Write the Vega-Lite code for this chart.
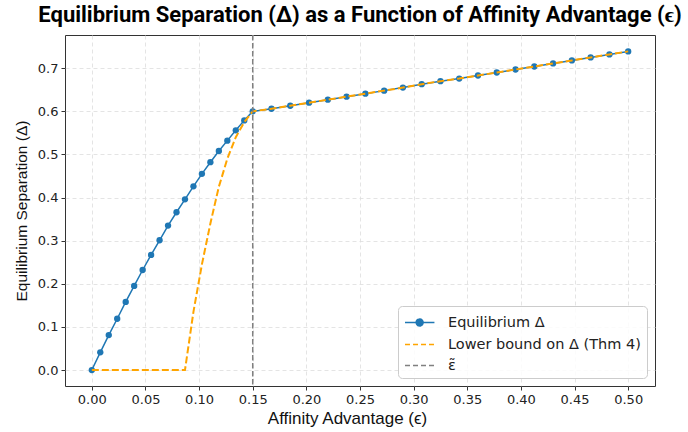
{
  "$schema": "https://vega.github.io/schema/vega-lite/v6.json",
  "width": 590,
  "height": 351,
  "autosize": {"type": "none"},
  "padding": {"left": 65, "top": 35, "right": 33, "bottom": 46},
  "background": "white",
  "title": {
    "text": "Equilibrium Separation (Δ) as a Function of Affinity Advantage (ϵ)",
    "font": "Roboto",
    "fontWeight": "bold",
    "fontSize": 22,
    "color": "#000000",
    "anchor": "middle",
    "offset": 7
  },
  "config": {
    "view": {"stroke": "#333333", "strokeWidth": 1},
    "axis": {
      "labelFont": "DejaVu Sans",
      "labelFontSize": 13,
      "labelColor": "#222222",
      "titleFont": "Liberation Sans",
      "titleFontSize": 15.5,
      "titleFontWeight": "normal",
      "titleColor": "#111111",
      "tickColor": "#333333",
      "tickSize": 4,
      "labelPadding": 3,
      "domain": false,
      "gridColor": "#dddddd",
      "gridDash": [4, 3],
      "gridWidth": 0.8
    },
    "legend": {"labelFont": "DejaVu Sans"}
  },
  "data": {
    "values": [
      {"series": "Equilibrium Δ", "x": 0, "y": 0},
      {"series": "Equilibrium Δ", "x": 0.00789, "y": 0.041},
      {"series": "Equilibrium Δ", "x": 0.01579, "y": 0.081},
      {"series": "Equilibrium Δ", "x": 0.02368, "y": 0.119},
      {"series": "Equilibrium Δ", "x": 0.03158, "y": 0.158},
      {"series": "Equilibrium Δ", "x": 0.03947, "y": 0.195},
      {"series": "Equilibrium Δ", "x": 0.04737, "y": 0.232},
      {"series": "Equilibrium Δ", "x": 0.05526, "y": 0.267},
      {"series": "Equilibrium Δ", "x": 0.06316, "y": 0.301},
      {"series": "Equilibrium Δ", "x": 0.07105, "y": 0.335},
      {"series": "Equilibrium Δ", "x": 0.07895, "y": 0.366},
      {"series": "Equilibrium Δ", "x": 0.08684, "y": 0.396},
      {"series": "Equilibrium Δ", "x": 0.09474, "y": 0.426},
      {"series": "Equilibrium Δ", "x": 0.10263, "y": 0.455},
      {"series": "Equilibrium Δ", "x": 0.11053, "y": 0.482},
      {"series": "Equilibrium Δ", "x": 0.11842, "y": 0.508},
      {"series": "Equilibrium Δ", "x": 0.12632, "y": 0.532},
      {"series": "Equilibrium Δ", "x": 0.13421, "y": 0.556},
      {"series": "Equilibrium Δ", "x": 0.14211, "y": 0.579},
      {"series": "Equilibrium Δ", "x": 0.15, "y": 0.6},
      {"series": "Equilibrium Δ", "x": 0.1675, "y": 0.606},
      {"series": "Equilibrium Δ", "x": 0.185, "y": 0.613},
      {"series": "Equilibrium Δ", "x": 0.2025, "y": 0.62},
      {"series": "Equilibrium Δ", "x": 0.22, "y": 0.627},
      {"series": "Equilibrium Δ", "x": 0.2375, "y": 0.634},
      {"series": "Equilibrium Δ", "x": 0.255, "y": 0.641},
      {"series": "Equilibrium Δ", "x": 0.2725, "y": 0.648},
      {"series": "Equilibrium Δ", "x": 0.29, "y": 0.655},
      {"series": "Equilibrium Δ", "x": 0.3075, "y": 0.663},
      {"series": "Equilibrium Δ", "x": 0.325, "y": 0.67},
      {"series": "Equilibrium Δ", "x": 0.3425, "y": 0.676},
      {"series": "Equilibrium Δ", "x": 0.36, "y": 0.683},
      {"series": "Equilibrium Δ", "x": 0.3775, "y": 0.69},
      {"series": "Equilibrium Δ", "x": 0.395, "y": 0.697},
      {"series": "Equilibrium Δ", "x": 0.4125, "y": 0.704},
      {"series": "Equilibrium Δ", "x": 0.43, "y": 0.711},
      {"series": "Equilibrium Δ", "x": 0.4475, "y": 0.718},
      {"series": "Equilibrium Δ", "x": 0.465, "y": 0.725},
      {"series": "Equilibrium Δ", "x": 0.4825, "y": 0.732},
      {"series": "Equilibrium Δ", "x": 0.5, "y": 0.739},
      {"series": "Lower bound on Δ (Thm 4)", "x": 0, "y": 0},
      {"series": "Lower bound on Δ (Thm 4)", "x": 0.00789, "y": 0},
      {"series": "Lower bound on Δ (Thm 4)", "x": 0.01579, "y": 0},
      {"series": "Lower bound on Δ (Thm 4)", "x": 0.02368, "y": 0},
      {"series": "Lower bound on Δ (Thm 4)", "x": 0.03158, "y": 0},
      {"series": "Lower bound on Δ (Thm 4)", "x": 0.03947, "y": 0},
      {"series": "Lower bound on Δ (Thm 4)", "x": 0.04737, "y": 0},
      {"series": "Lower bound on Δ (Thm 4)", "x": 0.05526, "y": 0},
      {"series": "Lower bound on Δ (Thm 4)", "x": 0.06316, "y": 0},
      {"series": "Lower bound on Δ (Thm 4)", "x": 0.07105, "y": 0},
      {"series": "Lower bound on Δ (Thm 4)", "x": 0.07895, "y": 0},
      {"series": "Lower bound on Δ (Thm 4)", "x": 0.08684, "y": 0},
      {"series": "Lower bound on Δ (Thm 4)", "x": 0.09474, "y": 0.135},
      {"series": "Lower bound on Δ (Thm 4)", "x": 0.10263, "y": 0.245},
      {"series": "Lower bound on Δ (Thm 4)", "x": 0.11053, "y": 0.34},
      {"series": "Lower bound on Δ (Thm 4)", "x": 0.11842, "y": 0.425},
      {"series": "Lower bound on Δ (Thm 4)", "x": 0.12632, "y": 0.49},
      {"series": "Lower bound on Δ (Thm 4)", "x": 0.13421, "y": 0.54},
      {"series": "Lower bound on Δ (Thm 4)", "x": 0.14211, "y": 0.575},
      {"series": "Lower bound on Δ (Thm 4)", "x": 0.15, "y": 0.6},
      {"series": "Lower bound on Δ (Thm 4)", "x": 0.1675, "y": 0.606},
      {"series": "Lower bound on Δ (Thm 4)", "x": 0.185, "y": 0.613},
      {"series": "Lower bound on Δ (Thm 4)", "x": 0.2025, "y": 0.62},
      {"series": "Lower bound on Δ (Thm 4)", "x": 0.22, "y": 0.627},
      {"series": "Lower bound on Δ (Thm 4)", "x": 0.2375, "y": 0.634},
      {"series": "Lower bound on Δ (Thm 4)", "x": 0.255, "y": 0.641},
      {"series": "Lower bound on Δ (Thm 4)", "x": 0.2725, "y": 0.648},
      {"series": "Lower bound on Δ (Thm 4)", "x": 0.29, "y": 0.655},
      {"series": "Lower bound on Δ (Thm 4)", "x": 0.3075, "y": 0.663},
      {"series": "Lower bound on Δ (Thm 4)", "x": 0.325, "y": 0.67},
      {"series": "Lower bound on Δ (Thm 4)", "x": 0.3425, "y": 0.676},
      {"series": "Lower bound on Δ (Thm 4)", "x": 0.36, "y": 0.683},
      {"series": "Lower bound on Δ (Thm 4)", "x": 0.3775, "y": 0.69},
      {"series": "Lower bound on Δ (Thm 4)", "x": 0.395, "y": 0.697},
      {"series": "Lower bound on Δ (Thm 4)", "x": 0.4125, "y": 0.704},
      {"series": "Lower bound on Δ (Thm 4)", "x": 0.43, "y": 0.711},
      {"series": "Lower bound on Δ (Thm 4)", "x": 0.4475, "y": 0.718},
      {"series": "Lower bound on Δ (Thm 4)", "x": 0.465, "y": 0.725},
      {"series": "Lower bound on Δ (Thm 4)", "x": 0.4825, "y": 0.732},
      {"series": "Lower bound on Δ (Thm 4)", "x": 0.5, "y": 0.739},
      {"series": "ε̃", "x": 0.15}
    ]
  },
  "encoding": {
    "x": {
      "field": "x",
      "type": "quantitative",
      "title": "Affinity Advantage (ϵ)",
      "scale": {"domain": [-0.025, 0.525], "nice": false, "zero": false},
      "axis": {"values": [0, 0.05, 0.1, 0.15, 0.2, 0.25, 0.3, 0.35, 0.4, 0.45, 0.5], "format": ".2f", "titlePadding": 4, "titleFontSize": 17, "titleX": 282}
    },
    "color": {
      "field": "series",
      "type": "nominal",
      "scale": {
        "domain": ["Equilibrium Δ", "Lower bound on Δ (Thm 4)", "ε̃"],
        "range": ["#1f77b4", "#ffa500", "#808080"]
      },
      "legend": {
        "title": null,
        "orient": "bottom-right",
        "offset": 8,
        "labelFont": "DejaVu Sans",
        "labelFontSize": 14.5,
        "labelColor": "#222222",
        "labelLimit": 400,
        "labelOffset": 23,
        "fillColor": "rgba(255,255,255,0.85)",
        "strokeColor": "#cccccc",
        "cornerRadius": 4,
        "padding": 6,
        "rowPadding": 4,
        "symbolSize": 361,
        "symbolStrokeWidth": 1.6,
        "encode": {
          "symbols": {
            "update": {
              "shape": {"signal": "datum.value === 'Equilibrium Δ' ? 'M -1 0 L 2.1 0 M 0.9 0 A 0.36 0.36 0 1 1 0.18 0 A 0.36 0.36 0 1 1 0.9 0 Z' : 'M -1 0 L 2.1 0'"},
              "fill": {"signal": "datum.value === 'Equilibrium Δ' ? '#1f77b4' : 'transparent'"},
              "stroke": {"signal": "datum.value === 'Equilibrium Δ' ? '#1f77b4' : (datum.value === 'ε̃' ? '#808080' : '#ffa500')"},
              "strokeDash": {"signal": "datum.value === 'Equilibrium Δ' ? [1, 0] : [5, 3]"},
              "strokeWidth": {"value": 1.6},
              "opacity": {"value": 1}
            }
          }
        }
      }
    }
  },
  "layer": [
    {
      "transform": [{"filter": "datum.series === 'Equilibrium Δ'"}],
      "mark": {"type": "line", "strokeWidth": 1.5},
      "encoding": {
        "y": {
          "field": "y",
          "type": "quantitative",
          "title": "Equilibrium Separation (Δ)",
          "scale": {"domain": [-0.037, 0.777], "nice": false, "zero": false},
          "axis": {"values": [0, 0.1, 0.2, 0.3, 0.4, 0.5, 0.6, 0.7], "format": ".1f", "titlePadding": 8}
        }
      }
    },
    {
      "transform": [{"filter": "datum.series === 'Equilibrium Δ'"}],
      "mark": {"type": "point", "filled": true, "size": 40, "opacity": 1},
      "encoding": {
        "y": {"field": "y", "type": "quantitative"}
      }
    },
    {
      "transform": [{"filter": "datum.series === 'Lower bound on Δ (Thm 4)'"}],
      "mark": {"type": "line", "strokeWidth": 2, "strokeDash": [7, 3]},
      "encoding": {
        "y": {"field": "y", "type": "quantitative"}
      }
    },
    {
      "transform": [{"filter": "datum.series === 'ε̃'"}],
      "mark": {"type": "rule", "strokeWidth": 1.5, "strokeDash": [5.5, 2.5]},
      "encoding": {}
    }
  ]
}
